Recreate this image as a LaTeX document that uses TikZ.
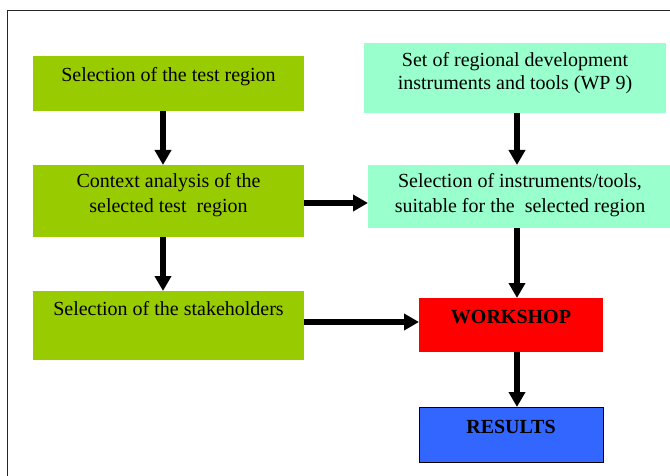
\documentclass[tikz,border=0pt]{standalone}
\usepackage{fontspec}
\setmainfont{Liberation Serif}
\usetikzlibrary{arrows.meta}

\definecolor{leaf}{HTML}{99CC00}
\definecolor{mint}{HTML}{99FFCC}
\definecolor{alarm}{HTML}{FF0000}
\definecolor{sky}{HTML}{3366FF}

\tikzset{
  box/.style={rectangle, inner sep=0pt, outer sep=0pt},
  greenbox/.style={box, fill=leaf},
  mintbox/.style={box, fill=mint},
  txt/.style={anchor=base, inner sep=0pt, font=\fontsize{20}{24}\selectfont},
  bold/.style={txt, font=\fontsize{20}{24}\selectfont\bfseries},
  flow/.style={line width=5.5pt, -{Triangle[width=16pt,length=15pt]}},
}

\begin{document}
\begin{tikzpicture}[x=1pt, y=-1pt]
  \useasboundingbox (0,0) rectangle (670,476);

  % outer frame (left and top edges fall inside the page)
  \draw[line width=1pt, black!85] (7.5,490) -- (7.5,11) -- (690,11);

  % boxes
  \node[greenbox, minimum width=271pt, minimum height=55pt] (b1) at (168.5,83.5) {};
  \node[mintbox,  minimum width=302pt, minimum height=70pt] (b2) at (515,78) {};
  \node[greenbox, minimum width=271pt, minimum height=72pt] (b3) at (168.5,201) {};
  \node[mintbox,  minimum width=302pt, minimum height=63pt] (b4) at (519,196.5) {};
  \node[greenbox, minimum width=271pt, minimum height=69pt] (b5) at (168.5,325.5) {};
  \node[box, fill=alarm, minimum width=184pt, minimum height=54pt] (ws) at (511,325) {};
  \node[box, fill=sky, draw=black, line width=1pt, minimum width=184pt, minimum height=55pt] (res) at (511,434.5) {};

  % texts
  \node[txt] (t1) at (168.5,81.5) {Selection of the test region};
  \node[txt] (t2a) at (515,66.5) {Set of regional development};
  \node[txt] (t2b) at (515,90) {instruments and tools (WP 9)};
  \node[txt] (t3a) at (168.5,188) {Context analysis of the};
  \node[txt] (t3b) at (168.5,213) {selected test\ \ region};
  \node[txt] (t4a) at (520,188) {Selection of instruments/tools,};
  \node[txt] (t4b) at (520,213) {suitable for the\ \ selected region};
  \node[txt] (t5) at (168.5,315) {Selection of the stakeholders};
  \node[bold] (t6) at (511,323) {WORKSHOP};
  \node[bold] (t7) at (511,433) {RESULTS};

  % connector guides
  \coordinate (colL) at (163,0);
  \coordinate (colR) at (517,0);
  \coordinate (rowA) at (0,203);
  \coordinate (rowB) at (0,322);

  % connectors
  \draw[flow] (b1.south -| colL) -- (b3.north -| colL);
  \draw[flow] (b3.south -| colL) -- (b5.north -| colL);
  \draw[flow] (b2.south -| colR) -- (b4.north -| colR);
  \draw[flow] (b4.south -| colR) -- (ws.north -| colR);
  \draw[flow] (ws.south -| colR) -- (res.north -| colR);
  \draw[flow] (b3.east |- rowA) -- (b4.west |- rowA);
  \draw[flow] (b5.east |- rowB) -- (ws.west |- rowB);
\end{tikzpicture}
\end{document}
